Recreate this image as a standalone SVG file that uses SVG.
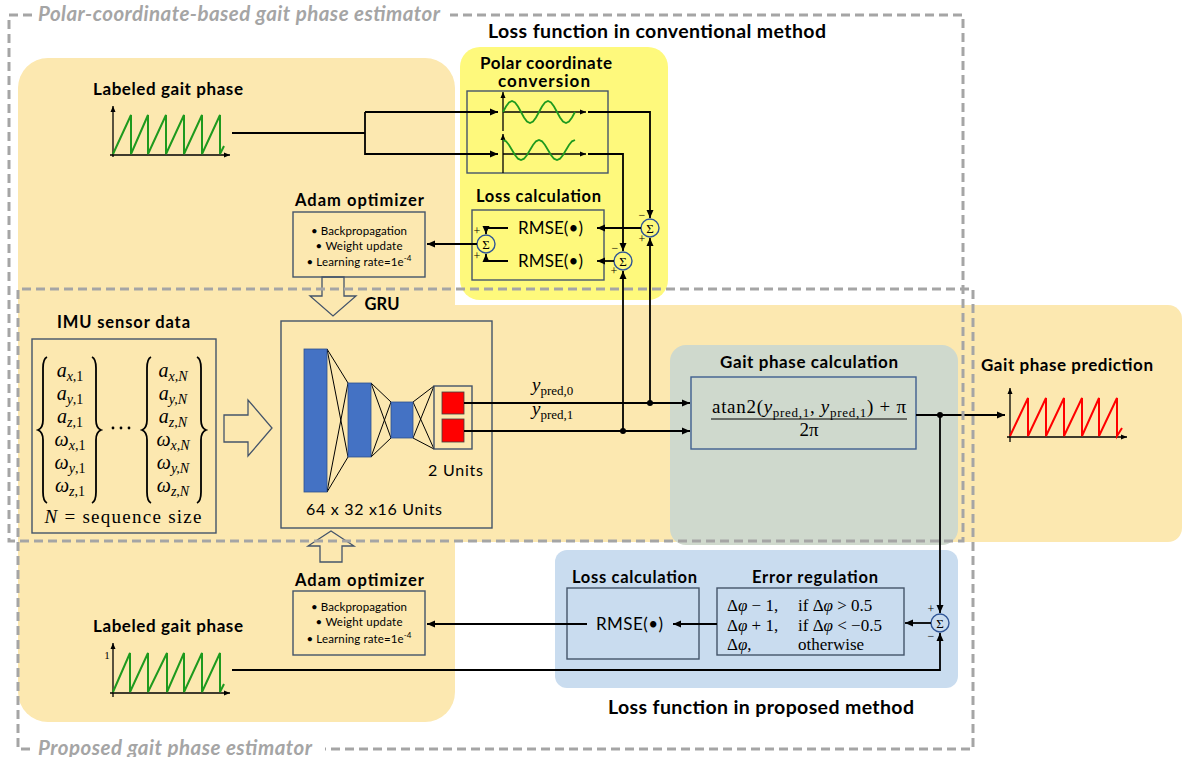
<svg xmlns="http://www.w3.org/2000/svg" width="1182" height="757" viewBox="0 0 1182 757">
  <defs>
    <marker id="ah" markerUnits="userSpaceOnUse" markerWidth="9" markerHeight="8" refX="8" refY="4" orient="auto">
      <path d="M0,0.5 L8,4 L0,7.5 z" fill="#000"/>
    </marker>
    <marker id="ahs" markerUnits="userSpaceOnUse" markerWidth="7" markerHeight="6" refX="6" refY="3" orient="auto">
      <path d="M0,0.5 L6,3 L0,5.5 z" fill="#000"/>
    </marker>
    <style>
      .t { font-family: Lato, "Open Sans", "Liberation Sans", sans-serif; fill: #000; }
      .h { font-size: 17px; font-weight: bold; text-anchor: middle; }
      .h16 { font-size: 16.5px; }
      .h19 { font-size: 19.5px; }
      .ttl { font-family: Lato, "Open Sans", "Liberation Sans", sans-serif; font-size: 20.5px; font-weight: bold; font-style: italic; fill: #A5A5A5; }
      .m { font-family: "Liberation Serif", "DejaVu Serif", serif; fill: #000; }
      .i { font-style: italic; }
      .bul { font-size: 11.5px; text-anchor: middle; }
      .box { fill: none; stroke: #44546A; stroke-width: 1.4; }
      .ln { fill: none; stroke: #000; stroke-width: 1.8; }
      .ar { fill: none; stroke: #000; stroke-width: 1.8; marker-end: url(#ah); }
      .ax { fill: none; stroke: #000; stroke-width: 1.3; marker-end: url(#ahs); }
      .dash { fill: none; stroke: #A5A5A5; stroke-width: 3; stroke-dasharray: 9 5; }
      .sum { fill: none; stroke: #2F5597; stroke-width: 1.4; }
      .hol { fill: none; stroke: #44546A; stroke-width: 1.3; }
      .bar { fill: #4472C4; stroke: #2F528F; stroke-width: 0.8; }
      .red { fill: #FF0000; stroke: #404040; stroke-width: 0.8; }
      .nn { stroke: #000; stroke-width: 1; }
      .dot { fill: #000; }
    </style>
  </defs>

  <!-- background regions -->
  <g id="backgrounds">
    <rect x="18" y="58" width="437" height="664" rx="30" fill="#FCE8B0"/>
    <rect x="18" y="305" width="1164" height="237" rx="14" fill="#FCE8B0"/>
    <rect x="460" y="47" width="208" height="253" rx="20" fill="#FEF97C"/>
    <rect x="670" y="345" width="288" height="200" rx="16" fill="#CFD9CD"/>
    <rect x="555" y="550" width="403" height="138" rx="12" fill="#C9DCEF"/>
  </g>

  <!-- labeled gait phase (top) -->
  <g id="label-top">
    <text class="t h" x="168" y="95" textLength="150">Labeled gait phase</text>
    <line class="ax" x1="113" y1="157" x2="113" y2="106"/>
    <line class="ax" x1="110" y1="155" x2="230" y2="155"/>
    <polyline fill="none" stroke="#1E9A1E" stroke-width="2" points="113,154 131,115 131,154 148,115 148,154 166,115 166,154 184,115 184,154 202,115 202,154 220,115 220,154 224,146"/>
  </g>

  <!-- polar coordinate conversion -->
  <g id="polar">
    <text class="t h" style="font-size:17px" x="546" y="69" textLength="132">Polar coordinate</text>
    <text class="t h" style="font-size:17px" x="544" y="87" textLength="92">conversion</text>
    <rect class="box" x="467" y="91" width="141" height="82"/>
    <line class="ax" x1="503" y1="131" x2="503" y2="92"/>
    <line class="ax" x1="503" y1="112" x2="586" y2="112"/>
    <polyline fill="none" stroke="#1E9A1E" stroke-width="1.8" points="503,112 506,106.5 509,102.5 512,101 515,102.5 518,106.5 521,112 524,117.5 527,121.5 530,123 533,121.5 536,117.5 539,112 542,106.5 545,102.5 548,101 551,102.5 554,106.5 557,112 560,117.5 563,121.5 566,123 569,121.5 572,117.5 575,112"/>
    <line class="ax" x1="503" y1="173" x2="503" y2="134"/>
    <line class="ax" x1="503" y1="154" x2="586" y2="154"/>
    <polyline fill="none" stroke="#1E9A1E" stroke-width="1.8" points="503,140 506,141.3 509,145 512,150 515,155 518,158.7 521,160 524,158.7 527,155 530,150 533,145 536,141.3 539,140 542,141.3 545,145 548,150 551,155 554,158.7 557,160 560,158.7 563,155 566,150 569,145 572,141.3 575,140"/>
  </g>

  <!-- loss calculation (conventional) -->
  <g id="loss-conv">
    <text class="t h h16" x="538.5" y="202" textLength="125">Loss calculation</text>
    <rect class="box" x="472" y="210" width="132" height="70"/>
    <text class="t" x="550.5" y="234" font-size="17" text-anchor="middle" textLength="65">RMSE(•)</text>
    <text class="t" x="550.5" y="267" font-size="17" text-anchor="middle" textLength="65">RMSE(•)</text>
  </g>

  <!-- summing junctions -->
  <g id="sum-1">
    <circle class="sum" cx="650" cy="228" r="9"/>
    <text class="m" x="650" y="233" font-size="13" text-anchor="middle">Σ</text>
    <text class="m" x="642" y="219" font-size="12" text-anchor="middle">−</text>
    <text class="m" x="642" y="243" font-size="12" text-anchor="middle">+</text>
  </g>
  <g id="sum-2">
    <circle class="sum" cx="623" cy="261" r="9"/>
    <text class="m" x="623" y="266" font-size="13" text-anchor="middle">Σ</text>
    <text class="m" x="615" y="252" font-size="12" text-anchor="middle">−</text>
    <text class="m" x="614" y="275" font-size="12" text-anchor="middle">+</text>
  </g>
  <g id="sum-3">
    <circle class="sum" cx="486" cy="244" r="9"/>
    <text class="m" x="486" y="249" font-size="13" text-anchor="middle">Σ</text>
    <text class="m" x="477" y="235" font-size="12" text-anchor="middle">+</text>
    <text class="m" x="477" y="260" font-size="12" text-anchor="middle">+</text>
  </g>
  <g id="sum-4">
    <circle class="sum" cx="940" cy="623" r="9"/>
    <text class="m" x="940" y="628" font-size="13" text-anchor="middle">Σ</text>
    <text class="m" x="931" y="613" font-size="12" text-anchor="middle">+</text>
    <text class="m" x="931" y="640" font-size="12" text-anchor="middle">−</text>
  </g>

  <!-- Adam optimizer (top) -->
  <g id="adam-top">
    <text class="t h h16" x="359.5" y="206" textLength="129">Adam optimizer</text>
    <rect class="box" x="293" y="212" width="132" height="65"/>
    <text class="t bul" x="359" y="235" textLength="96">• Backpropagation</text>
    <text class="t bul" x="359" y="250" textLength="87">• Weight update</text>
    <text class="t bul" x="359" y="266" textLength="105">• Learning rate=1e<tspan font-size="8" dy="-5">-4</tspan></text>
    <polygon class="hol" points="322,277 344,277 344,296 356,296 333,316 310,296 322,296"/>
  </g>

  <!-- IMU sensor data -->
  <g id="imu">
    <text class="t h h16" x="123.5" y="328" textLength="133">IMU sensor data</text>
    <rect class="box" x="32" y="339" width="184" height="194"/>
    <g fill="none" stroke="#000" stroke-width="1.8">
      <path d="M47,357 Q43,359 43,368 L43,420 Q43,428 38,430 Q43,432 43,440 L43,492 Q43,501 47,503"/>
      <path d="M92,357 Q96,359 96,368 L96,420 Q96,428 101,430 Q96,432 96,440 L96,492 Q96,501 92,503"/>
      <path d="M151,357 Q147,359 147,368 L147,420 Q147,428 142,430 Q147,432 147,440 L147,492 Q147,501 151,503"/>
      <path d="M197,357 Q201,359 201,368 L201,420 Q201,428 206,430 Q201,432 201,440 L201,492 Q201,501 197,503"/>
    </g>
    <g class="m" font-size="20" text-anchor="middle">
      <text x="70" y="377"><tspan class="i">a</tspan><tspan font-size="14" dy="4" class="i">x</tspan><tspan font-size="14">,1</tspan></text>
      <text x="70" y="400"><tspan class="i">a</tspan><tspan font-size="14" dy="4" class="i">y</tspan><tspan font-size="14">,1</tspan></text>
      <text x="70" y="423"><tspan class="i">a</tspan><tspan font-size="14" dy="4" class="i">z</tspan><tspan font-size="14">,1</tspan></text>
      <text x="70" y="446"><tspan class="i">ω</tspan><tspan font-size="14" dy="4" class="i">x</tspan><tspan font-size="14">,1</tspan></text>
      <text x="70" y="469"><tspan class="i">ω</tspan><tspan font-size="14" dy="4" class="i">y</tspan><tspan font-size="14">,1</tspan></text>
      <text x="70" y="492"><tspan class="i">ω</tspan><tspan font-size="14" dy="4" class="i">z</tspan><tspan font-size="14">,1</tspan></text>
      <text x="173" y="377"><tspan class="i">a</tspan><tspan font-size="14" dy="4" class="i">x,N</tspan></text>
      <text x="173" y="400"><tspan class="i">a</tspan><tspan font-size="14" dy="4" class="i">y,N</tspan></text>
      <text x="173" y="423"><tspan class="i">a</tspan><tspan font-size="14" dy="4" class="i">z,N</tspan></text>
      <text x="173" y="446"><tspan class="i">ω</tspan><tspan font-size="14" dy="4" class="i">x,N</tspan></text>
      <text x="173" y="469"><tspan class="i">ω</tspan><tspan font-size="14" dy="4" class="i">y,N</tspan></text>
      <text x="173" y="492"><tspan class="i">ω</tspan><tspan font-size="14" dy="4" class="i">z,N</tspan></text>
    </g>
    <circle class="dot" cx="113" cy="428" r="1.4"/>
    <circle class="dot" cx="121" cy="428" r="1.4"/>
    <circle class="dot" cx="129" cy="428" r="1.4"/>
    <text class="m" x="123" y="523" font-size="19" text-anchor="middle" textLength="157"><tspan class="i">N</tspan> = sequence size</text>
    <polygon class="hol" points="224,415 248,415 248,400 272,428 248,456 248,442 224,442"/>
  </g>

  <!-- GRU network -->
  <g id="gru">
    <text class="t h h16" x="382" y="310" textLength="35">GRU</text>
    <rect class="box" x="281" y="321" width="211" height="207"/>
    <g class="nn">
      <line x1="327" y1="349" x2="348" y2="383"/><line x1="327" y1="349" x2="348" y2="457"/>
      <line x1="327" y1="492" x2="348" y2="383"/><line x1="327" y1="492" x2="348" y2="457"/>
      <line x1="371" y1="383" x2="391" y2="402"/><line x1="371" y1="383" x2="391" y2="438"/>
      <line x1="371" y1="457" x2="391" y2="402"/><line x1="371" y1="457" x2="391" y2="438"/>
      <line x1="413" y1="402" x2="434" y2="386"/><line x1="413" y1="402" x2="434" y2="449"/>
      <line x1="413" y1="438" x2="434" y2="386"/><line x1="413" y1="438" x2="434" y2="449"/>
    </g>
    <rect class="bar" x="304" y="349" width="23" height="143"/>
    <rect class="bar" x="348" y="383" width="23" height="74"/>
    <rect class="bar" x="391" y="402" width="22" height="36"/>
    <rect class="box" x="434" y="386" width="38" height="63"/>
    <rect class="red" x="442" y="392" width="22" height="22"/>
    <rect class="red" x="442" y="419" width="22" height="23"/>
    <text class="t" x="455.5" y="476" font-size="16" text-anchor="middle" textLength="55">2 Units</text>
    <text class="t" x="374" y="515" font-size="16" text-anchor="middle" textLength="136">64 x 32 x16 Units</text>
  </g>

  <!-- gait phase calculation -->
  <g id="gait-calc">
    <text class="t h" x="809" y="368" textLength="178">Gait phase calculation</text>
    <rect x="691" y="377" width="225" height="72" fill="none" stroke="#3F5F8F" stroke-width="1.4"/>
    <text class="m" x="809" y="413" font-size="19" text-anchor="middle" textLength="194">atan2(<tspan class="i">y</tspan><tspan font-size="13" dy="4">pred,1</tspan><tspan dy="-4">, </tspan><tspan class="i">y</tspan><tspan font-size="13" dy="4">pred,1</tspan><tspan dy="-4">) + π</tspan></text>
    <line x1="711" y1="419" x2="907" y2="419" stroke="#000" stroke-width="1"/>
    <text class="m" x="809" y="436" font-size="19" text-anchor="middle">2π</text>
  </g>

  <!-- gait phase prediction -->
  <g id="prediction">
    <text class="t h" x="1067" y="371" textLength="172">Gait phase prediction</text>
    <line class="ax" x1="1010" y1="442" x2="1010" y2="388"/>
    <line class="ax" x1="1007" y1="437" x2="1127" y2="437"/>
    <polyline fill="none" stroke="#FF0000" stroke-width="2" points="1010,436 1028,398 1028,436 1046,398 1046,436 1064,398 1064,436 1082,398 1082,436 1099,398 1099,436 1117,398 1117,436 1122,428"/>
  </g>

  <!-- loss function (proposed) -->
  <g id="loss-prop">
    <text class="t h h16" x="634.5" y="583" textLength="125">Loss calculation</text>
    <rect class="box" x="567" y="588" width="132" height="71"/>
    <text class="t" x="629.5" y="630" font-size="17" text-anchor="middle" textLength="67">RMSE(•)</text>
  </g>
  <g id="error-reg">
    <text class="t h h16" x="815" y="583" textLength="126">Error regulation</text>
    <rect class="box" x="717" y="588" width="187" height="67"/>
    <g class="m" font-size="17">
      <text x="727" y="611">Δ<tspan class="i">φ</tspan> − 1,</text>
      <text x="798" y="611">if Δ<tspan class="i">φ</tspan> &gt; 0.5</text>
      <text x="727" y="631">Δ<tspan class="i">φ</tspan> + 1,</text>
      <text x="798" y="631">if Δ<tspan class="i">φ</tspan> &lt; −0.5</text>
      <text x="727" y="650">Δ<tspan class="i">φ</tspan>,</text>
      <text x="798" y="650">otherwise</text>
    </g>
  </g>

  <!-- Adam optimizer (bottom) -->
  <g id="adam-bottom">
    <text class="t h h16" x="359.5" y="586" textLength="129">Adam optimizer</text>
    <rect class="box" x="293" y="591" width="132" height="64"/>
    <text class="t bul" x="359" y="611" textLength="96">• Backpropagation</text>
    <text class="t bul" x="359" y="626" textLength="87">• Weight update</text>
    <text class="t bul" x="359" y="643" textLength="105">• Learning rate=1e<tspan font-size="8" dy="-5">-4</tspan></text>
    <polygon class="hol" points="320,562 342,562 342,546 354,546 331,531 308,546 320,546"/>
  </g>

  <!-- labeled gait phase (bottom) -->
  <g id="label-bottom">
    <text class="t h" x="168" y="632" textLength="150">Labeled gait phase</text>
    <line class="ax" x1="113" y1="697" x2="113" y2="643"/>
    <line class="ax" x1="110" y1="693" x2="230" y2="693"/>
    <text class="m" x="107" y="659" font-size="11" text-anchor="middle">1</text>
    <polyline fill="none" stroke="#1E9A1E" stroke-width="2" points="113,692 130,653 130,692 148,653 148,692 167,653 167,692 184,653 184,692 202,653 202,692 220,653 220,692 224,684"/>
  </g>

  <!-- connectors -->
  <g id="connectors">
    <polyline class="ln" points="232,133 365,133"/>
    <polyline class="ar" points="365,112 365,154 498,154"/>
    <polyline class="ar" points="365,112 498,112"/>
    <polyline class="ar" points="588,112 650,112 650,218"/>
    <polyline class="ar" points="588,154 623,154 623,251"/>
    <line class="ar" x1="650" y1="403" x2="650" y2="238"/>
    <line class="ar" x1="623" y1="431" x2="623" y2="271"/>
    <line class="ar" x1="641" y1="228" x2="597" y2="228"/>
    <line class="ar" x1="614" y1="261" x2="597" y2="261"/>
    <polyline class="ar" points="508,228 486,228 486,234"/>
    <polyline class="ar" points="508,261 486,261 486,254"/>
    <line class="ar" x1="477" y1="244" x2="427" y2="244"/>
    <line class="ar" x1="464" y1="403" x2="690" y2="403"/>
    <line class="ar" x1="464" y1="431" x2="690" y2="431"/>
    <circle class="dot" cx="650" cy="403" r="3"/>
    <circle class="dot" cx="623" cy="431" r="3"/>
    <line class="ar" x1="916" y1="415" x2="1005" y2="415"/>
    <circle class="dot" cx="940" cy="415" r="3"/>
    <line class="ar" x1="940" y1="415" x2="940" y2="613"/>
    <polyline class="ar" points="232,670 940,670 940,633"/>
    <line class="ar" x1="931" y1="623" x2="905" y2="623"/>
    <line class="ar" x1="717" y1="624" x2="673" y2="624"/>
    <line class="ar" x1="587" y1="624" x2="427" y2="624"/>
  </g>

  <!-- y_pred labels -->
  <g id="ypred-labels" class="m" font-size="19">
    <text x="532" y="391"><tspan class="i">y</tspan><tspan font-size="13" dy="4">pred,0</tspan></text>
    <text x="532" y="415"><tspan class="i">y</tspan><tspan font-size="13" dy="4">pred,1</tspan></text>
  </g>

  <!-- section headings -->
  <g id="headings">
    <text class="t h h19" x="657" y="38" textLength="338">Loss function in conventional method</text>
    <text class="t h h19" x="761" y="714" textLength="306">Loss function in proposed method</text>
  </g>

  <!-- estimator frames -->
  <g id="frames">
    <polyline class="dash" points="32,15 9,15 9,541 963,541 963,15 450,15"/>
    <text class="ttl" x="38" y="21" textLength="402">Polar-coordinate-based gait phase estimator</text>
    <polyline class="dash" points="30,749 18,749 18,289 973,289 973,749 325,749"/>
    <text class="ttl" x="38" y="755" textLength="274">Proposed gait phase estimator</text>
  </g>
</svg>
